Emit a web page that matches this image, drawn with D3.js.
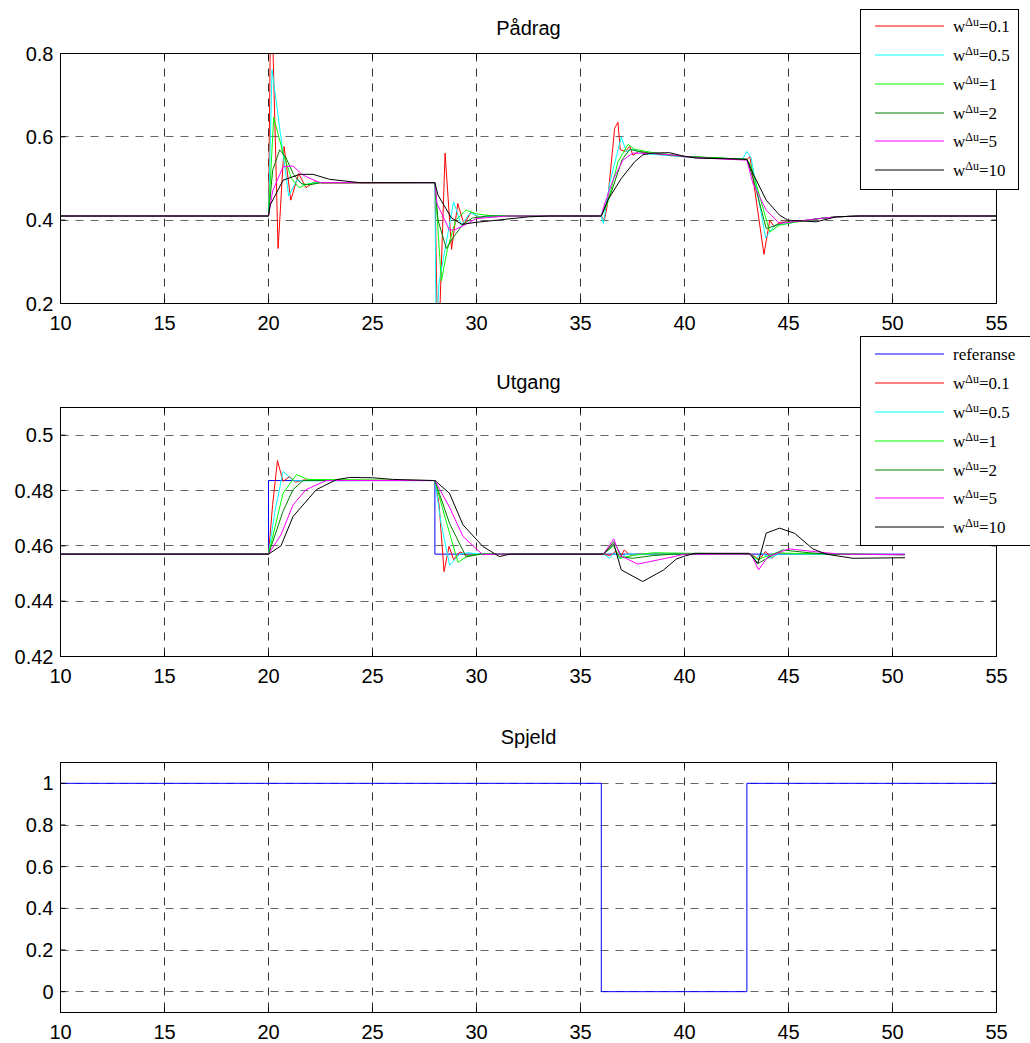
<!DOCTYPE html>
<html>
<head>
<meta charset="utf-8">
<script src="https://cdn.jsdelivr.net/npm/d3@7"></script>
<style>
	body { margin: 0; background: #fff; }
	svg { display: block; }
	text { font-family: 'Liberation Sans', Arial, sans-serif; }
	.legend text { font-family: 'Liberation Serif', 'DejaVu Serif', serif; }
</style>
</head>
<body>
<script>
// x ticks shared by all three panels
const xTicks = [10, 15, 20, 25, 30, 35, 40, 45, 50, 55];

// Pådrag (control signal), [time, value]
const padragW01 = [[10,0.41],[20,0.41],[20.12,1.0],[20.46,0.332],[20.75,0.577],[21.07,0.448],[21.45,0.512],[21.8,0.478],[22.2,0.492],[22.6,0.489],[28,0.49],[28.15,0.05],[28.25,0.2],[28.49,0.561],[28.8,0.33],[29.1,0.44],[29.4,0.39],[29.75,0.42],[30.1,0.405],[30.6,0.41],[36,0.41],[36.15,0.40],[36.27,0.43],[36.64,0.62],[36.8,0.635],[36.91,0.569],[37.15,0.565],[37.37,0.577],[37.52,0.556],[37.8,0.565],[38.3,0.56],[40,0.552],[43,0.546],[43.15,0.552],[43.82,0.318],[44.1,0.40],[44.3,0.385],[44.6,0.395],[45.4,0.396],[46.5,0.404],[47.3,0.408],[48.4,0.41],[55,0.41]];
const padragW05 = [[10,0.41],[20,0.41],[20.17,0.761],[20.97,0.458],[21.37,0.497],[21.7,0.484],[22.2,0.49],[28,0.49],[28.06,0.12],[28.2,0.25],[28.9,0.444],[29.27,0.388],[29.7,0.418],[30.2,0.407],[30.8,0.41],[36,0.41],[36.1,0.392],[36.4,0.488],[36.96,0.60],[37.2,0.565],[37.5,0.57],[38,0.56],[40,0.552],[42.8,0.547],[43,0.565],[43.2,0.55],[43.9,0.358],[44.34,0.388],[44.73,0.39],[45.4,0.396],[46.5,0.404],[47.3,0.408],[48.4,0.41],[55,0.41]];
const padragW1 = [[10,0.41],[20,0.41],[20.25,0.647],[20.7,0.561],[21.1,0.5],[21.47,0.478],[21.9,0.487],[22.5,0.49],[28,0.49],[28.31,0.254],[28.6,0.33],[29.0,0.40],[29.5,0.424],[30.0,0.415],[30.8,0.41],[36,0.41],[36.3,0.44],[36.8,0.54],[37.28,0.582],[37.6,0.57],[38.5,0.562],[40,0.553],[43,0.546],[43.2,0.53],[44.1,0.372],[44.57,0.388],[45.4,0.396],[46.5,0.404],[47.3,0.408],[48.4,0.41],[55,0.41]];
const padragW2 = [[10,0.41],[20,0.41],[20.2,0.52],[20.54,0.569],[20.83,0.551],[21.2,0.51],[21.6,0.487],[22.0,0.485],[22.5,0.49],[28,0.49],[28.15,0.40],[28.55,0.332],[28.9,0.36],[29.35,0.39],[29.8,0.405],[30.5,0.41],[36,0.41],[36.5,0.47],[37.0,0.545],[37.37,0.57],[37.8,0.565],[38.5,0.56],[40,0.553],[43,0.546],[43.3,0.5],[43.93,0.38],[44.25,0.385],[44.8,0.395],[45.4,0.397],[46.5,0.404],[47.3,0.408],[48.4,0.41],[55,0.41]];
const padragW5 = [[10,0.41],[20,0.41],[20.2,0.47],[20.7,0.528],[21.18,0.53],[21.6,0.51],[22.0,0.5],[22.5,0.49],[28,0.49],[28.1,0.44],[28.7,0.376],[28.95,0.377],[29.3,0.385],[30.0,0.404],[31.5,0.41],[36,0.41],[36.1,0.43],[36.56,0.496],[37.04,0.544],[37.52,0.561],[38.5,0.56],[39.5,0.556],[40.5,0.55],[43,0.544],[43.29,0.488],[43.93,0.424],[44.57,0.392],[45.2,0.396],[46.5,0.404],[47.3,0.408],[48.4,0.41],[55,0.41]];
const padragW10 = [[10,0.41],[20,0.41],[20.08,0.436],[20.7,0.496],[21.5,0.51],[22.14,0.51],[22.94,0.498],[24.4,0.49],[28,0.49],[28.15,0.46],[28.8,0.405],[29.3,0.39],[30.0,0.395],[31.0,0.4],[32.5,0.408],[33.5,0.41],[36,0.41],[36.31,0.448],[36.96,0.5],[37.6,0.54],[38.0,0.557],[38.48,0.561],[39.28,0.562],[39.92,0.554],[40.57,0.549],[43,0.546],[43.29,0.512],[43.93,0.448],[44.57,0.412],[44.97,0.4],[46.33,0.396],[47.3,0.408],[48.4,0.41],[55,0.41]];

// Utgang (output)
const utgangRef = [[10,0.457],[20,0.457],[20,0.4836],[28,0.4836],[28,0.457],[50.6,0.457]];
const utgangW01 = [[10,0.457],[20,0.457],[20.2,0.475],[20.43,0.4908],[20.7,0.4833],[21.02,0.485],[21.3,0.483],[21.7,0.4838],[28,0.4836],[28.2,0.475],[28.44,0.4507],[28.68,0.4598],[28.9,0.455],[29.2,0.4578],[29.6,0.4565],[30.2,0.457],[36.1,0.457],[36.4,0.4565],[36.7,0.458],[36.9,0.4555],[37.1,0.4585],[37.4,0.4565],[37.7,0.457],[43.2,0.457],[43.6,0.455],[43.9,0.458],[44.2,0.4555],[44.5,0.4575],[45,0.457],[50.6,0.4568]];
const utgangW05 = [[10,0.457],[20,0.457],[20.3,0.472],[20.7,0.4869],[21.2,0.4835],[28,0.4836],[28.3,0.468],[28.71,0.453],[29.2,0.457],[29.6,0.4575],[30.2,0.457],[36.1,0.457],[36.4,0.4555],[36.6,0.4575],[36.9,0.4555],[37.2,0.457],[43.2,0.457],[43.4,0.455],[43.7,0.4575],[44.1,0.4555],[44.5,0.457],[50.6,0.4568]];
const utgangW1 = [[10,0.457],[20,0.457],[20.7,0.479],[21.34,0.4857],[21.9,0.484],[28,0.4836],[28.5,0.47],[29.11,0.454],[29.6,0.4565],[30.2,0.457],[36.1,0.457],[36.6,0.460],[36.9,0.4555],[37.5,0.4565],[38.5,0.4575],[43.2,0.457],[43.5,0.455],[44.4,0.4575],[45.5,0.4572],[50.6,0.4568]];
const utgangW2 = [[10,0.457],[20,0.457],[20.7,0.4725],[21.18,0.4803],[21.66,0.4836],[28,0.4836],[28.7,0.4682],[29.5,0.456],[30.2,0.457],[36.1,0.457],[36.6,0.4615],[37.0,0.456],[37.5,0.4555],[38.5,0.4565],[39.5,0.457],[43.2,0.457],[43.5,0.4535],[44.7,0.4585],[46,0.4575],[47,0.457],[50.6,0.4568]];
const utgangW5 = [[10,0.457],[20,0.457],[20.6,0.464],[21.18,0.4748],[21.8,0.4803],[22.78,0.4836],[28,0.4836],[28.7,0.474],[29.35,0.4634],[30.3,0.4568],[31,0.457],[36.1,0.457],[36.6,0.4625],[36.9,0.4565],[37.75,0.4534],[39.5,0.4561],[40,0.457],[43.2,0.457],[43.56,0.4513],[44.0,0.456],[45,0.4589],[46.8,0.4575],[47.5,0.457],[50.6,0.4568]];
const utgangW10 = [[10,0.457],[20,0.457],[20.6,0.460],[21.18,0.4706],[22.3,0.4803],[23.26,0.4839],[23.9,0.4847],[25,0.4846],[26,0.484],[28,0.4836],[28.7,0.479],[29.35,0.4676],[30.3,0.4598],[31.1,0.4561],[31.6,0.457],[36.1,0.457],[36.6,0.4607],[36.96,0.4513],[37.99,0.4471],[39.0,0.4513],[39.6,0.4552],[40,0.4563],[40.5,0.4573],[43.1,0.4573],[43.53,0.4537],[43.93,0.4646],[44.57,0.4664],[45.3,0.4645],[46.17,0.4589],[46.8,0.457],[48.1,0.4555],[50.6,0.4557]];

// Spjeld (damper)
const spjeld = [[10,1],[36,1],[36,0],[43,0],[43,1],[55,1]];

const wLabels = ['0.1', '0.5', '1', '2', '5', '10'];

const width = 1030;
const height = 1043;
const svg = d3.select('body').append('svg')
	.attr('width', width)
	.attr('height', height);

const x = d3.scaleLinear([10, 55], [60.5, 996.5]);

const panels = [
	{
		title: 'Pådrag', top: 53.5, bottom: 303.5, domain: [0.2, 0.8], yTicks: [0.2, 0.4, 0.6, 0.8],
		series: [
			{ data: padragW01, color: '#ff0000', label: wLabels[0] },
			{ data: padragW05, color: '#00ffff', label: wLabels[1] },
			{ data: padragW1, color: '#00ff00', label: wLabels[2] },
			{ data: padragW2, color: '#008000', label: wLabels[3] },
			{ data: padragW5, color: '#ff00ff', label: wLabels[4] },
			{ data: padragW10, color: '#000000', label: wLabels[5] },
		],
		legend: { x: 860.5, y: 9.5, w: 158, h: 180, rows: [26, 55, 84, 113, 141, 170] },
	},
	{
		title: 'Utgang', top: 407.5, bottom: 656.5, domain: [0.42, 0.51], yTicks: [0.42, 0.44, 0.46, 0.48, 0.5],
		series: [
			{ data: utgangRef, color: '#0000ff', label: null },
			{ data: utgangW01, color: '#ff0000', label: wLabels[0] },
			{ data: utgangW05, color: '#00ffff', label: wLabels[1] },
			{ data: utgangW1, color: '#00ff00', label: wLabels[2] },
			{ data: utgangW2, color: '#008000', label: wLabels[3] },
			{ data: utgangW5, color: '#ff00ff', label: wLabels[4] },
			{ data: utgangW10, color: '#000000', label: wLabels[5] },
		],
		legend: { x: 860.5, y: 336.5, w: 185, h: 209, rows: [354, 383, 412, 441, 470, 498, 527] },
	},
	{
		title: 'Spjeld', top: 762.5, bottom: 1012.5, domain: [-0.1, 1.1], yTicks: [0, 0.2, 0.4, 0.6, 0.8, 1],
		series: [
			{ data: spjeld, color: '#0000ff', label: null },
		],
		legend: null,
	},
];

const fmt = d => String(+d.toFixed(2));

panels.forEach((p, pi) => {
	const y = d3.scaleLinear(p.domain, [p.bottom, p.top]);
	const g = svg.append('g').attr('class', 'panel');
	const [x0, x1] = x.range();

	g.append('clipPath').attr('id', `clip${pi}`)
		.append('rect')
		.attr('x', x0).attr('y', p.top)
		.attr('width', x1 - x0).attr('height', p.bottom - p.top);

	// grid
	g.append('g').selectAll('line')
		.data(xTicks.slice(1, -1))
		.join('line')
		.attr('x1', d => x(d)).attr('x2', d => x(d))
		.attr('y1', p.top).attr('y2', p.bottom)
		.attr('stroke', '#333')
		.attr('stroke-dasharray', '8,7');
	g.append('g').selectAll('line')
		.data(p.yTicks.filter(d => y(d) > p.top + 1 && y(d) < p.bottom - 1))
		.join('line')
		.attr('x1', x0).attr('x2', x1)
		.attr('y1', d => Math.round(y(d) - 0.5) + 0.5).attr('y2', d => Math.round(y(d) - 0.5) + 0.5)
		.attr('stroke', '#666')
		.attr('stroke-dasharray', '8,7');

	// series
	const line = d3.line().x(d => x(d[0])).y(d => y(d[1]));
	g.append('g').attr('clip-path', `url(#clip${pi})`)
		.selectAll('path')
		.data(p.series)
		.join('path')
		.attr('d', d => line(d.data))
		.attr('fill', 'none')
		.attr('stroke', d => d.color)
		.attr('stroke-width', 1);

	// frame
	g.append('rect')
		.attr('x', x0).attr('y', p.top)
		.attr('width', x1 - x0).attr('height', p.bottom - p.top)
		.attr('fill', 'none')
		.attr('stroke', '#000')
		.attr('stroke-width', 1);

	// inward ticks on all four sides
	const tk = 5;
	g.append('g').selectAll('path')
		.data(xTicks)
		.join('path')
		.attr('d', d => `M${x(d)},${p.bottom}v${-tk}M${x(d)},${p.top}v${tk}`)
		.attr('stroke', '#000');
	g.append('g').selectAll('path')
		.data(p.yTicks)
		.join('path')
		.attr('d', d => `M${x0},${y(d)}h${tk}M${x1},${y(d)}h${-tk}`)
		.attr('stroke', '#000');

	// tick labels
	g.append('g').selectAll('text')
		.data(xTicks)
		.join('text')
		.attr('x', d => x(d))
		.attr('y', p.bottom + 26)
		.attr('text-anchor', 'middle')
		.attr('font-size', 20)
		.text(d => d);
	g.append('g').selectAll('text')
		.data(p.yTicks)
		.join('text')
		.attr('x', x0 - 7)
		.attr('y', d => y(d) + 7)
		.attr('text-anchor', 'end')
		.attr('font-size', 20)
		.text(fmt);

	// title
	g.append('text')
		.attr('x', (x0 + x1) / 2)
		.attr('y', p.top - 19)
		.attr('text-anchor', 'middle')
		.attr('font-size', 20)
		.text(p.title);

	// legend
	if (p.legend) {
		const L = p.legend;
		const lg = svg.append('g').attr('class', 'legend');
		lg.append('rect')
			.attr('x', L.x).attr('y', L.y)
			.attr('width', L.w).attr('height', L.h)
			.attr('fill', '#fff')
			.attr('stroke', '#000');
		const item = lg.selectAll('g.item')
			.data(p.series.map((s, i) => ({ ...s, ry: L.rows[i] })))
			.join('g')
			.attr('class', 'item');
		item.append('line')
			.attr('x1', 875).attr('x2', 944)
			.attr('y1', d => d.ry).attr('y2', d => d.ry)
			.attr('stroke', d => d.color);
		const t = item.append('text')
			.attr('x', 953)
			.attr('y', d => d.ry + 6)
			.attr('font-size', 17);
		t.each(function (d) {
			const el = d3.select(this);
			if (d.label === null) {
				el.text('referanse');
				return;
			}
			el.append('tspan').text('w');
			el.append('tspan').attr('dy', -6).attr('font-size', 12).text('Δu');
			el.append('tspan').attr('dy', 6).text(`=${d.label}`);
		});
	}
});
</script>
</body>
</html>
